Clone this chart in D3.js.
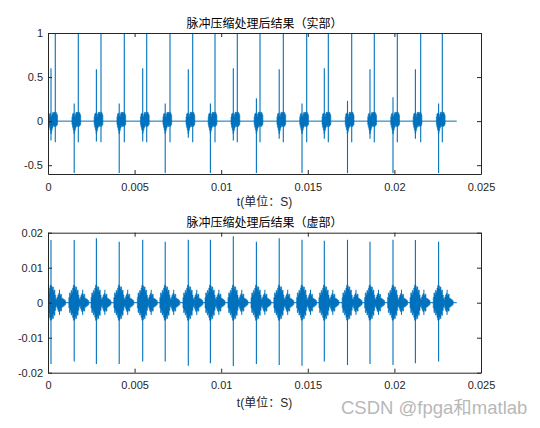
<!DOCTYPE html>
<html><head><meta charset="utf-8">
<script src="https://cdn.jsdelivr.net/npm/d3@7/dist/d3.min.js"></script>
<style>body{margin:0;background:#fff}svg{display:block}</style>
</head><body>
<svg id="c" width="540" height="428"></svg>
<script>
// ---------- data ----------
const titles = ["脉冲压缩处理后结果（实部）", "脉冲压缩处理后结果（虚部）"];
const xLabel = "t(单位：S)";
const xTicks = [0, 0.005, 0.01, 0.015, 0.02, 0.025];
const xTickLabels = ["0", "0.005", "0.01", "0.015", "0.02", "0.025"];
const realYTicks = [-0.5, 0, 0.5, 1];
const realYTickLabels = ["-0.5", "0", "0.5", "1"];
const imagYTicks = [-0.02, -0.01, 0, 0.01, 0.02];
const imagYTickLabels = ["-0.02", "-0.01", "0", "0.01", "0.02"];
const realYDomain = [-0.6, 1];
const imagYDomain = [-0.02, 0.02];
const xDomain = [0, 0.025];
const signalEnd = 0.0236;

// echo (pulse) times: side spike of real part / main spike of imag part
const pulseTimes = [0.000173, 0.001513, 0.002794, 0.004111, 0.005468, 0.006767,
  0.008100, 0.009376, 0.010699, 0.012032, 0.013349, 0.014665,
  0.015953, 0.017292, 0.018591, 0.019919, 0.021212, 0.022552];
// real part main (tallest) spikes
const realMainTimes = [0.000421, 0.001749, 0.003060, 0.004405, 0.005699, 0.007044,
  0.008355, 0.009642, 0.010929, 0.012240, 0.013586, 0.014936,
  0.016184, 0.017535, 0.018839, 0.020168, 0.021518, 0.022766];
const realMainMax = [1, 1, 1, 1, 1, 1, 1, 1, 1, 1, 1, 1, 1, 1, 1, 1, 1, 1];
const realMainMin = [-0.24, -0.24, -0.24, -0.24, -0.24, -0.24, -0.24, -0.24, -0.24,
  -0.24, -0.24, -0.24, -0.24, -0.24, -0.24, -0.24, -0.24, -0.24];
const realSideMax = [0.6, 0.2, 0.59, 0.2, 0.6, 0.2, 0.59, 0.2, 0.6, 0.26, 0.59, 0.2,
  0.6, 0.23, 0.59, 0.27, 0.59, 0.2];
const realSideMin = [-0.22, -0.59, -0.23, -0.59, -0.23, -0.59, -0.19, -0.59, -0.22,
  -0.59, -0.2, -0.59, -0.2, -0.59, -0.2, -0.59, -0.2, -0.59];
// real-part burst envelope around each pulse time
const realEnvOffset = [-0.00014, -0.00012, -0.00008, -0.00004, 0, 0.00004, 0.00008,
  0.00012, 0.00016, 0.00020, 0.00024, 0.00028, 0.00032, 0.00036, 0.00039];
const realEnvUpper = [0, 0.05, 0.08, 0.09, 0.06, 0.05, 0.08, 0.1, 0.09, 0.1, 0.09,
  0.1, 0.09, 0.07, 0];
const realEnvLower = [0, -0.04, -0.07, -0.1, -0.14, -0.11, -0.08, -0.06, -0.05,
  -0.06, -0.05, -0.06, -0.05, -0.04, 0];

// imaginary part spikes at pulse times
const imagSpikeMax = [0.0179, 0.0179, 0.0184, 0.0174, 0.018, 0.0174, 0.018, 0.018, 0.019,
  0.0174, 0.0184, 0.018, 0.0177, 0.018, 0.0174, 0.018, 0.0179, 0.0174];
const imagSpikeMin = [-0.0175, -0.0168, -0.0175, -0.0175, -0.0168, -0.0168, -0.018,
  -0.0173, -0.0181, -0.0175, -0.0178, -0.018, -0.0168, -0.0178, -0.0175, -0.0178,
  -0.0173, -0.0168];
// imaginary burst envelope (symmetric) around each pulse time
const imagEnvOffset = [-0.00033, -0.00029, -0.00025, -0.0002, -0.00016, -0.000115,
  -0.00007, -0.00003, 0.00003, 0.00007, 0.000115, 0.00016, 0.0002, 0.00025, 0.00029,
  0.00033, 0.000375, 0.00042, 0.00046, 0.00052, 0.00058, 0.00064, 0.00069, 0.00075,
  0.00081, 0.00087];
const imagEnvAmp = [0, 0.0015, 0.0028, 0.0022, 0.0035, 0.003, 0.0042, 0.005, 0.0048,
  0.004, 0.0045, 0.0032, 0.0036, 0.0022, 0.0012, 0.0009, 0.0016, 0.0022, 0.0026,
  0.002, 0.0024, 0.0013, 0.0011, 0.0009, 0.0006, 0];
const imagSubOffset = [0.00049];
const imagSubMax = [0.0037];
const imagSubMin = [-0.0035];

// ---------- drawing ----------
const W = 540, H = 428;
const color = "#0072BD", axisColor = "#262626";
const tickFont = "'Liberation Sans', Arial, sans-serif";
const cjkFont = "'Noto Sans CJK SC', sans-serif";
const svg = d3.select("#c");
svg.append("rect").attr("width", W).attr("height", H).attr("fill", "#fff");

const left = 48, right = 481;
const panels = [
  {top: 33, bottom: 174, yDomain: realYDomain, yTicks: realYTicks, yLabels: realYTickLabels,
   title: titles[0], titleY: 28, xlabY: 205.5, kind: "real"},
  {top: 232.7, bottom: 372.7, yDomain: imagYDomain, yTicks: imagYTicks, yLabels: imagYTickLabels,
   title: titles[1], titleY: 226.5, xlabY: 406.5, kind: "imag"}
];

panels.forEach((p, pi) => {
  const x = d3.scaleLinear().domain(xDomain).range([left, right]);
  const y = d3.scaleLinear().domain(p.yDomain).range([p.bottom, p.top]);
  const g = svg.append("g");
  const clipId = "clip" + pi;
  svg.append("clipPath").attr("id", clipId).append("rect")
    .attr("x", left).attr("y", p.top).attr("width", right - left).attr("height", p.bottom - p.top);
  const plot = g.append("g").attr("clip-path", `url(#${clipId})`);

  // baseline
  plot.append("line").attr("x1", x(0)).attr("x2", x(signalEnd))
    .attr("y1", y(0)).attr("y2", y(0)).attr("stroke", color).attr("stroke-width", 1);

  if (p.kind === "real") {
    const env = realEnvOffset.map((o, i) => ({o, u: realEnvUpper[i], l: realEnvLower[i]}));
    pulseTimes.forEach((t0, gi) => {
      const area = d3.area().x(d => x(t0 + d.o)).y0(d => y(d.l)).y1(d => y(d.u))
        .curve(d3.curveStep);
      plot.append("path").attr("d", area(env)).attr("fill", color)
        .attr("stroke", color).attr("stroke-width", 0.6);
      plot.append("line").attr("x1", x(t0)).attr("x2", x(t0))
        .attr("y1", y(realSideMin[gi])).attr("y2", y(realSideMax[gi]))
        .attr("stroke", color).attr("stroke-width", 1.1);
      const tm = realMainTimes[gi];
      plot.append("line").attr("x1", x(tm)).attr("x2", x(tm))
        .attr("y1", y(realMainMin[gi])).attr("y2", y(realMainMax[gi]))
        .attr("stroke", color).attr("stroke-width", 1.1);
    });
  } else {
    const env = imagEnvOffset.map((o, i) => ({o, a: imagEnvAmp[i]}));
    pulseTimes.forEach((t0, gi) => {
      const area = d3.area().x(d => x(t0 + d.o)).y0(d => y(-d.a)).y1(d => y(d.a))
        .curve(d3.curveStep);
      plot.append("path").attr("d", area(env)).attr("fill", color)
        .attr("stroke", color).attr("stroke-width", 0.6);
      plot.append("line").attr("x1", x(t0)).attr("x2", x(t0))
        .attr("y1", y(imagSpikeMin[gi])).attr("y2", y(imagSpikeMax[gi]))
        .attr("stroke", color).attr("stroke-width", 1.1);
      imagSubOffset.forEach((o, k) => {
        plot.append("line").attr("x1", x(t0 + o)).attr("x2", x(t0 + o))
          .attr("y1", y(imagSubMin[k])).attr("y2", y(imagSubMax[k]))
          .attr("stroke", color).attr("stroke-width", 1);
      });
    });
  }

  // axes
  const ax = [
    g.append("g").attr("transform", `translate(0,${p.bottom})`)
      .call(d3.axisBottom(x).tickValues(xTicks).tickFormat((d, i) => xTickLabels[i])
        .tickSizeInner(-4).tickSizeOuter(0).tickPadding(9)),
    g.append("g").attr("transform", `translate(0,${p.top})`)
      .call(d3.axisTop(x).tickValues(xTicks).tickFormat("").tickSizeInner(-4).tickSizeOuter(0)),
    g.append("g").attr("transform", `translate(${left},0)`)
      .call(d3.axisLeft(y).tickValues(p.yTicks).tickFormat((d, i) => p.yLabels[i])
        .tickSizeInner(-4).tickSizeOuter(0).tickPadding(5)),
    g.append("g").attr("transform", `translate(${right},0)`)
      .call(d3.axisRight(y).tickValues(p.yTicks).tickFormat("").tickSizeInner(-4).tickSizeOuter(0))
  ];
  ax.forEach(a => {
    a.selectAll("path,line").attr("stroke", axisColor).attr("stroke-width", 1);
    a.selectAll("text").attr("fill", axisColor).style("font-family", tickFont).style("font-size", "11px");
  });

  // title and x label
  svg.append("text").attr("x", (left + right) / 2).attr("y", p.titleY)
    .attr("text-anchor", "middle").attr("fill", "#000")
    .style("font-family", cjkFont).style("font-size", "12px").text(p.title);
  svg.append("text").attr("x", (left + right) / 2).attr("y", p.xlabY)
    .attr("text-anchor", "middle").attr("fill", axisColor)
    .style("font-family", "'Liberation Sans', 'Noto Sans CJK SC', sans-serif")
    .style("font-size", "12px").text(xLabel);
});

// watermark
svg.append("text").attr("x", 341).attr("y", 414)
  .attr("fill", "#b8b8b8")
  .style("font-family", "'Liberation Sans', 'Noto Sans CJK SC', sans-serif")
  .style("font-size", "18.5px").text("CSDN @fpga和matlab");
</script>
</body></html>
